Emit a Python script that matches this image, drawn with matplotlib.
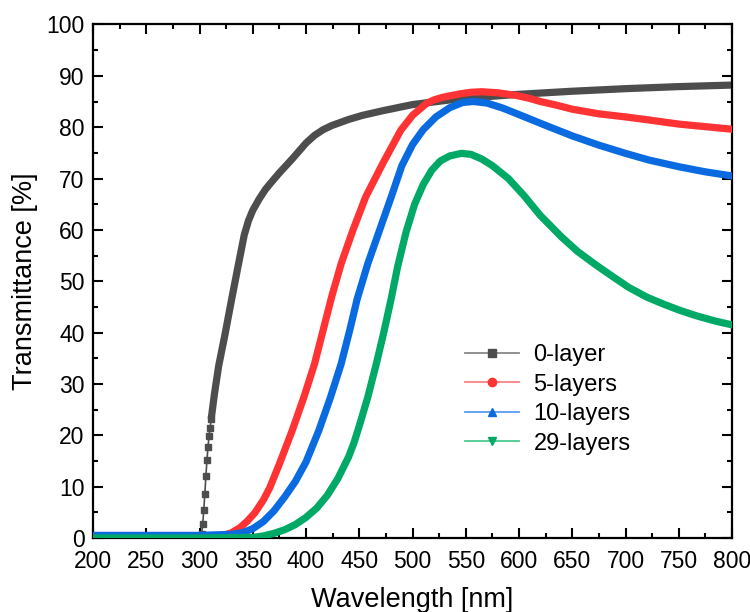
import matplotlib
matplotlib.use("Agg")
from matplotlib import pyplot as plt
from matplotlib.lines import Line2D
from matplotlib.ticker import MultipleLocator

plt.rcParams['font.family'] = ['Liberation Sans', 'DejaVu Sans']

# values (wavelength in nm, transmittance in %)
wl_0 = [200, 250, 295, 300, 301, 302, 303, 304, 305, 306, 307, 308, 309, 310, 311, 312,
        314, 318, 324, 330, 336, 342, 346, 350, 356, 362, 368, 375, 387, 400, 408, 416,
        424, 432, 440, 453, 472, 500, 535, 560, 600, 650, 700, 750, 800]
t_0 = [0.2, 0.2, 0.2, 0.3, 0.5, 0.8, 2.7, 5.4, 8.6, 12.0, 15.2, 17.8, 19.9, 21.5, 23.2, 24.8,
       28.0, 33.5, 39.7, 46.3, 52.7, 59.0, 61.8, 63.8, 66.0, 67.9, 69.4, 71.1, 73.8, 76.9, 78.4, 79.5,
       80.3, 80.9, 81.5, 82.3, 83.2, 84.4, 85.3, 85.8, 86.4, 87.0, 87.5, 87.9, 88.2]

wl_5 = [200, 250, 300, 315, 322, 330, 338, 345, 352, 360, 366, 375, 387, 398, 408, 416,
        424, 433, 444, 456, 472, 489, 500, 513, 520, 528, 535, 545, 555, 565, 580, 597,
        610, 620, 635, 650, 675, 700, 722, 750, 800]
t_5 = [0.3, 0.3, 0.3, 0.35, 0.5, 1.0, 2.0, 3.3, 4.9, 7.4, 9.8, 14.4, 20.9, 27.4, 33.9, 40.4,
       46.9, 53.4, 59.9, 66.4, 72.9, 79.4, 82.3, 84.6, 85.3, 85.8, 86.1, 86.5, 86.8, 86.9, 86.7, 86.2,
       85.6, 85.0, 84.3, 83.5, 82.6, 82.0, 81.4, 80.6, 79.6]

wl_10 = [200, 250, 300, 330, 340, 350, 360, 370, 380, 390, 400, 412, 423, 433, 441, 448,
         458, 469, 480, 490, 500, 510, 522, 535, 547, 557, 570, 585, 597, 628, 650, 675,
         700, 722, 750, 775, 800]
t_10 = [0.5, 0.5, 0.5, 0.7, 1.0, 1.8, 3.2, 5.3, 8.0, 11.0, 14.8, 20.9, 27.4, 33.9, 40.4, 46.5,
        53.4, 59.9, 66.4, 72.5, 76.6, 79.5, 82.0, 83.8, 84.8, 85.0, 84.7, 83.7, 82.7, 80.1, 78.3, 76.5,
        74.9, 73.6, 72.3, 71.3, 70.5]

wl_29 = [200, 250, 300, 350, 360, 370, 380, 390, 400, 410, 420, 430, 440, 445, 450, 458,
         466, 473, 480, 486, 494, 502, 510, 518, 526, 535, 546, 555, 565, 575, 590, 605,
         620, 640, 655, 672, 688, 703, 720, 735, 750, 766, 785, 800]
t_29 = [0.0, 0.0, 0.0, 0.1, 0.4, 0.9, 1.6, 2.6, 4.0, 5.8, 8.3, 11.6, 15.8, 18.5, 21.8, 27.4,
        33.9, 40.0, 46.6, 52.8, 59.6, 65.0, 68.8, 71.6, 73.4, 74.4, 74.9, 74.7, 73.8, 72.5, 70.0, 66.6,
        62.8, 58.6, 55.8, 53.2, 50.9, 48.8, 46.9, 45.6, 44.4, 43.3, 42.2, 41.5]

labels = ["0-layer", "5-layers", "10-layers", "29-layers"]
colors = ["#4D4D4D", "#FF3333", "#0A6BE0", "#00AA66"]
light = ["#888888", "#FF8080", "#5A9CF0", "#4CC891"]
markers = ["s", "o", "^", "v"]

fig = plt.figure(figsize=(7.5, 6.12), dpi=100)
ax = fig.add_axes([0.124, 0.121, 0.852, 0.839])

# 0-layer: separate markers on the steep part, dense band elsewhere
cut = wl_0.index(311)
ax.plot(wl_0[:cut + 1], t_0[:cut + 1], color=colors[0], lw=1.2, marker="s", ms=4, zorder=2)
ax.plot(wl_0[cut:], t_0[cut:], color=colors[0], lw=5.2, solid_capstyle="butt", zorder=2)
ax.plot(wl_0[:4], t_0[:4], color=colors[0], lw=5.2, zorder=2)

for wl, t, c in [(wl_5, t_5, colors[1]), (wl_10, t_10, colors[2]), (wl_29, t_29, colors[3])]:
    ax.plot(wl, t, color=c, lw=5.2, zorder=3)

ax.set_xlim(200, 800)
ax.set_ylim(0, 100)
ax.xaxis.set_major_locator(MultipleLocator(50))
ax.xaxis.set_minor_locator(MultipleLocator(25))
ax.yaxis.set_major_locator(MultipleLocator(10))
ax.yaxis.set_minor_locator(MultipleLocator(5))
ax.tick_params(which="both", direction="in", top=True, right=True, width=1.5, labelsize=16.5)
ax.tick_params(axis="x", pad=9)
ax.tick_params(axis="y", pad=6)
ax.tick_params(which="major", length=7)
ax.tick_params(which="minor", length=3.5)
for s in ax.spines.values():
    s.set_linewidth(1.6)

ax.set_xlabel("Wavelength [nm]", fontsize=19.5, labelpad=10)
ax.set_ylabel("Transmittance [%]", fontsize=19.5, labelpad=6)

handles = [Line2D([], [], color=light[i], lw=1.3, marker=markers[i], ms=6,
                  markerfacecolor=colors[i], markeredgecolor=colors[i]) for i in range(4)]
ax.legend(handles, labels, loc="upper left", bbox_to_anchor=(0.549, 0.419), frameon=False,
          fontsize=17, handlelength=2.3, handletextpad=0.6, labelspacing=0.32)

plt.savefig("out.png", dpi=100)
plt.close()
